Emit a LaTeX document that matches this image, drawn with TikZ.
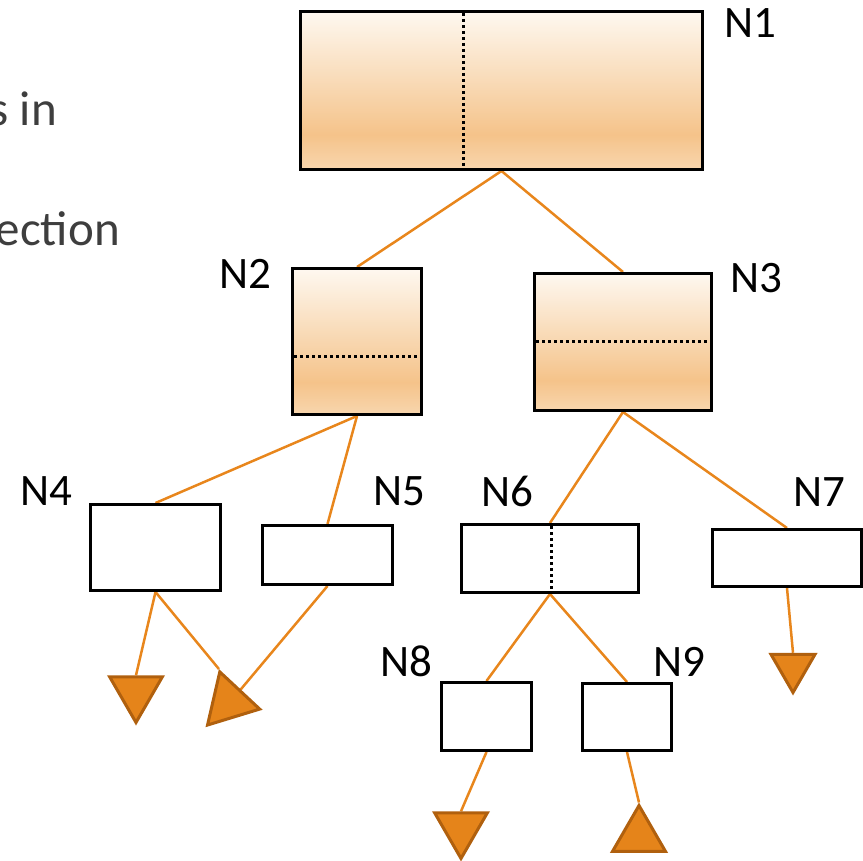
\documentclass[tikz,border=0pt]{standalone}
\usepackage{fontspec}
\setmainfont{Carlito}
\usetikzlibrary{shapes.geometric}
\definecolor{sTop}{HTML}{FEF8F0}
\definecolor{sMid}{HTML}{F9DDBC}
\definecolor{sDark}{HTML}{F5C38A}
\definecolor{sBot}{HTML}{F8D6AE}
\definecolor{conn}{HTML}{E8861C}
\definecolor{triFill}{HTML}{E5841A}
\definecolor{triLine}{HTML}{B0600E}
\definecolor{txtGray}{HTML}{3E3E3E}
\pgfdeclareverticalshading{boxshade}{100bp}{color(0bp)=(sBot); color(25bp)=(sBot); color(36bp)=(sDark); color(55bp)=(sMid); color(75bp)=(sTop); color(100bp)=(sTop)}
\pgfdeclarelayer{bg}
\pgfsetlayers{bg,main}
\tikzset{
  treebox/.style={draw=black, line width=3pt, inner sep=0pt, rectangle},
  shadedbox/.style={treebox, shading=boxshade},
  plainbox/.style={treebox, fill=white},
  divider/.style={black, line width=3pt, dash pattern=on 3pt off 3pt},
  link/.style={conn, line width=2.5pt},
  leaf/.style={regular polygon, regular polygon sides=3, inner sep=0pt, fill=triFill, draw=triLine, line width=3pt},
  lab/.style={anchor=base west, inner sep=0pt, font=\fontsize{45}{52}\selectfont},
  side/.style={anchor=base east, inner sep=0pt, text=txtGray, font=\fontsize{49}{56}\selectfont}
}
\begin{document}
\begin{tikzpicture}[x=1pt,y=-1pt]
\useasboundingbox (0,0) rectangle (863,861);
% left partial text
\node[side] (t1) at (57,126) {s in};
\node[side] (t2) at (120,246) {ection};
% boxes
\node[shadedbox, minimum width=402pt, minimum height=158pt] (N1) at (501.5,90.5) {};
\node[shadedbox, minimum width=129pt, minimum height=146pt] (N2) at (357,341.5) {};
\node[shadedbox, minimum width=177pt, minimum height=137pt] (N3) at (623,342) {};
\node[plainbox, minimum width=130pt, minimum height=86pt] (N4) at (155.5,547.5) {};
\node[plainbox, minimum width=130pt, minimum height=59pt] (N5) at (327.5,555) {};
\node[plainbox, minimum width=177pt, minimum height=68pt] (N6) at (550,558.5) {};
\node[plainbox, minimum width=149pt, minimum height=57pt] (N7) at (787,558) {};
\node[plainbox, minimum width=90pt, minimum height=68pt] (N8) at (486.5,716.5) {};
\node[plainbox, minimum width=89pt, minimum height=67pt] (N9) at (627,717) {};
% dividers
\draw[divider] (463,13) -- (463,169);
\draw[divider] (294,357) -- (421,357);
\draw[divider] (536,342) -- (711,342);
\draw[divider] (551,526) -- (551,592);
% leaves
\node[leaf, minimum size=61pt, shape border rotate=180] (T1) at (136,692) {};
\node[leaf, minimum size=63pt, shape border rotate=17] (T2) at (229,702) {};
\node[leaf, minimum size=51pt, shape border rotate=180] (T3) at (793,667) {};
\node[leaf, minimum size=61pt, shape border rotate=180] (T4) at (461,828) {};
\node[leaf, minimum size=61pt] (T5) at (639,836) {};
% labels
\node[lab] (L1) at (724,38) {N1};
\node[lab] (L2) at (219,289) {N2};
\node[lab] (L3) at (730,293) {N3};
\node[lab] (L4) at (20,505) {N4};
\node[lab] (L5) at (373,505) {N5};
\node[lab] (L6) at (481,506) {N6};
\node[lab] (L7) at (793,506) {N7};
\node[lab] (L8) at (380,676) {N8};
\node[lab] (L9) at (653,676) {N9};
% connectors
\begin{pgfonlayer}{bg}
\draw[link] (N1.south) -- (N2.north);
\draw[link] (N1.south) -- (N3.north);
\draw[link] (N2.south) -- (N4.north);
\draw[link] (N2.south) -- (N5.north);
\draw[link] (N3.south) -- (N6.north);
\draw[link] (N3.south) -- (N7.north);
\draw[link] (N6.south) -- (N8.north);
\draw[link] (N6.south) -- (N9.north);
\draw[link] (N4.south) -- (T1.side 2);
\draw[link] (N4.south) -- (T2.corner 1);
\draw[link] (N5.south) -- (T2.side 3);
\draw[link] (N7.south) -- (T3.side 2);
\draw[link] (N8.south) -- (T4.side 2);
\draw[link] (N9.south) -- (T5.corner 1);
\end{pgfonlayer}
\end{tikzpicture}
\end{document}
